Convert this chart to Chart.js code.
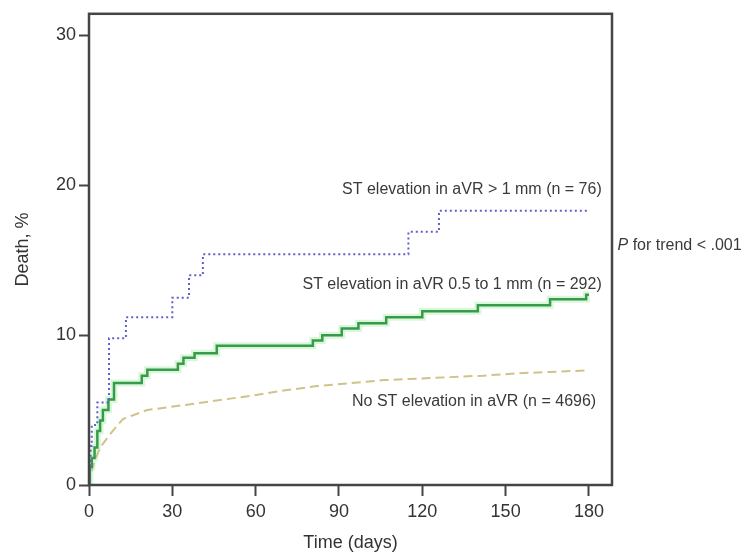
<!DOCTYPE html>
<html>
<head>
<meta charset="utf-8">
<script src="https://cdn.jsdelivr.net/npm/chart.js@4/dist/chart.umd.min.js"></script>
<style>
  html, body { margin: 0; padding: 0; background: #fff; }
  #wrap { width: 752px; height: 556px; }
</style>
</head>
<body>
<div id="wrap"><canvas id="kmChart" width="752" height="556"></canvas></div>
<script>
// Kaplan-Meier death curves as [day, death %]
const stHigh = [
    [0, 0], [0.3, 1.3], [0.6, 2.6], [1, 4.0], [3, 5.5], [7.2, 9.8], [13.3, 11.2],
    [30, 12.5], [36, 14.0], [41, 15.4], [115, 16.9], [126, 18.3], [180, 18.3]
];
const stMid = [
    [0, 0], [0.3, 1.2], [1, 1.8], [2, 2.5], [3, 3.6], [4, 4.3], [5, 5.0], [7, 5.7],
    [9, 6.8], [19, 7.3], [21, 7.7], [32, 8.1], [34, 8.5], [38, 8.8], [46, 9.3],
    [80.6, 9.65], [84, 10.0], [91, 10.45], [97, 10.8], [107, 11.2], [120, 11.6],
    [140, 12.0], [166, 12.4], [179, 12.7], [180, 12.7]
];
const stNone = [
    [0, 0], [0.7, 0.8], [2.2, 1.65], [4, 2.5], [7.6, 3.4], [12.2, 4.4], [20.9, 5.0],
    [32.8, 5.3], [44.6, 5.6], [58, 5.95], [70, 6.3], [82, 6.6], [94, 6.8], [106, 7.0],
    [118, 7.1], [130, 7.2], [142, 7.3], [154, 7.45], [166, 7.55], [180, 7.65]
];

const seriesLabels = [
    "ST elevation in aVR > 1 mm (n = 76)",
    "ST elevation in aVR 0.5 to 1 mm (n = 292)",
    "No ST elevation in aVR (n = 4696)"
];
const xTicks = [0, 30, 60, 90, 120, 150, 180];
const yTicks = [0, 10, 20, 30];

const toXY = arr => arr.map(p => ({ x: p[0], y: p[1] }));

const AXIS = "#454545";
const FONT = "'Liberation Sans', Arial, Helvetica, sans-serif";

// box around the plot area
const framePlugin = {
    id: "frame",
    afterDraw(chart) {
        const { ctx, chartArea: a } = chart;
        ctx.save();
        ctx.strokeStyle = AXIS;
        ctx.lineWidth = 2.5;
        ctx.strokeRect(a.left, a.top, a.right - a.left, a.bottom - a.top);
        ctx.restore();
    }
};

// curve labels and the p value
const labelPlugin = {
    id: "curveLabels",
    afterDatasetsDraw(chart) {
        const { ctx } = chart;
        const xs = chart.scales.x, ys = chart.scales.y;
        ctx.save();
        ctx.fillStyle = "#3a3a3a";
        ctx.textBaseline = "middle";
        ctx.font = "16px " + FONT;
        ctx.textAlign = "right";
        ctx.fillText(seriesLabels[0], xs.getPixelForValue(184.6), ys.getPixelForValue(19.7));
        ctx.fillText(seriesLabels[1], xs.getPixelForValue(184.6), ys.getPixelForValue(13.4));
        ctx.fillText(seriesLabels[2], xs.getPixelForValue(182.6), ys.getPixelForValue(5.55));

        ctx.textAlign = "left";
        let px = xs.getPixelForValue(190.3);
        const py = ys.getPixelForValue(16.0);
        ctx.font = "italic 16px " + FONT;
        ctx.fillText("P", px, py);
        px += ctx.measureText("P ").width;
        ctx.font = "16px " + FONT;
        ctx.fillText("for trend < .001", px, py);
        ctx.restore();
    }
};

new Chart(document.getElementById("kmChart"), {
    type: "line",
    data: {
        datasets: [
            {
                label: seriesLabels[0],
                data: toXY(stHigh),
                stepped: "before",
                borderColor: "rgb(95, 95, 205)",
                borderWidth: 2,
                borderDash: [2, 3],
                pointRadius: 0,
                fill: false,
                order: 1
            },
            {
                label: seriesLabels[1],
                data: toXY(stMid),
                stepped: "before",
                borderColor: "rgb(55, 155, 75)",
                borderWidth: 2.5,
                pointRadius: 0,
                fill: false,
                order: 2
            },
            {
                label: "halo",
                data: toXY(stMid),
                stepped: "before",
                borderColor: "rgba(160, 235, 160, 0.4)",
                borderWidth: 7,
                pointRadius: 0,
                fill: false,
                order: 5
            },
            {
                label: seriesLabels[2],
                data: toXY(stNone),
                borderColor: "rgb(208, 194, 136)",
                borderWidth: 2,
                borderDash: [9, 5],
                pointRadius: 0,
                tension: 0,
                fill: false,
                order: 3
            }
        ]
    },
    options: {
        responsive: false,
        animation: false,
        layout: {
            padding: { top: 9, right: 140, left: 0, bottom: 0 }
        },
        plugins: {
            legend: { display: false },
            tooltip: { enabled: false }
        },
        scales: {
            x: {
                type: "linear",
                min: 0,
                max: 188.3,
                afterFit: s => { s.height = 71; },
                afterBuildTicks: s => { s.ticks = xTicks.map(v => ({ value: v })); },
                ticks: {
                    color: "#333",
                    padding: 5,
                    maxRotation: 0,
                    font: { family: FONT, size: 18 }
                },
                grid: {
                    drawOnChartArea: false,
                    tickLength: 11,
                    tickWidth: 2,
                    tickColor: AXIS
                },
                border: { display: false },
                title: {
                    display: true,
                    text: "Time (days)",
                    color: "#333",
                    padding: { top: 2, bottom: 2 },
                    font: { family: FONT, size: 18 }
                }
            },
            y: {
                type: "linear",
                min: 0,
                max: 31.45,
                afterFit: s => { s.width = 89; },
                afterBuildTicks: s => { s.ticks = yTicks.map(v => ({ value: v })); },
                ticks: {
                    color: "#333",
                    padding: 3,
                    font: { family: FONT, size: 18 }
                },
                grid: {
                    drawOnChartArea: false,
                    tickLength: 10,
                    tickWidth: 2,
                    tickColor: AXIS
                },
                border: { display: false },
                title: {
                    display: true,
                    text: "Death, %",
                    color: "#333",
                    padding: { top: 12, bottom: 10 },
                    font: { family: FONT, size: 18 }
                }
            }
        }
    },
    plugins: [framePlugin, labelPlugin]
});
</script>
</body>
</html>
